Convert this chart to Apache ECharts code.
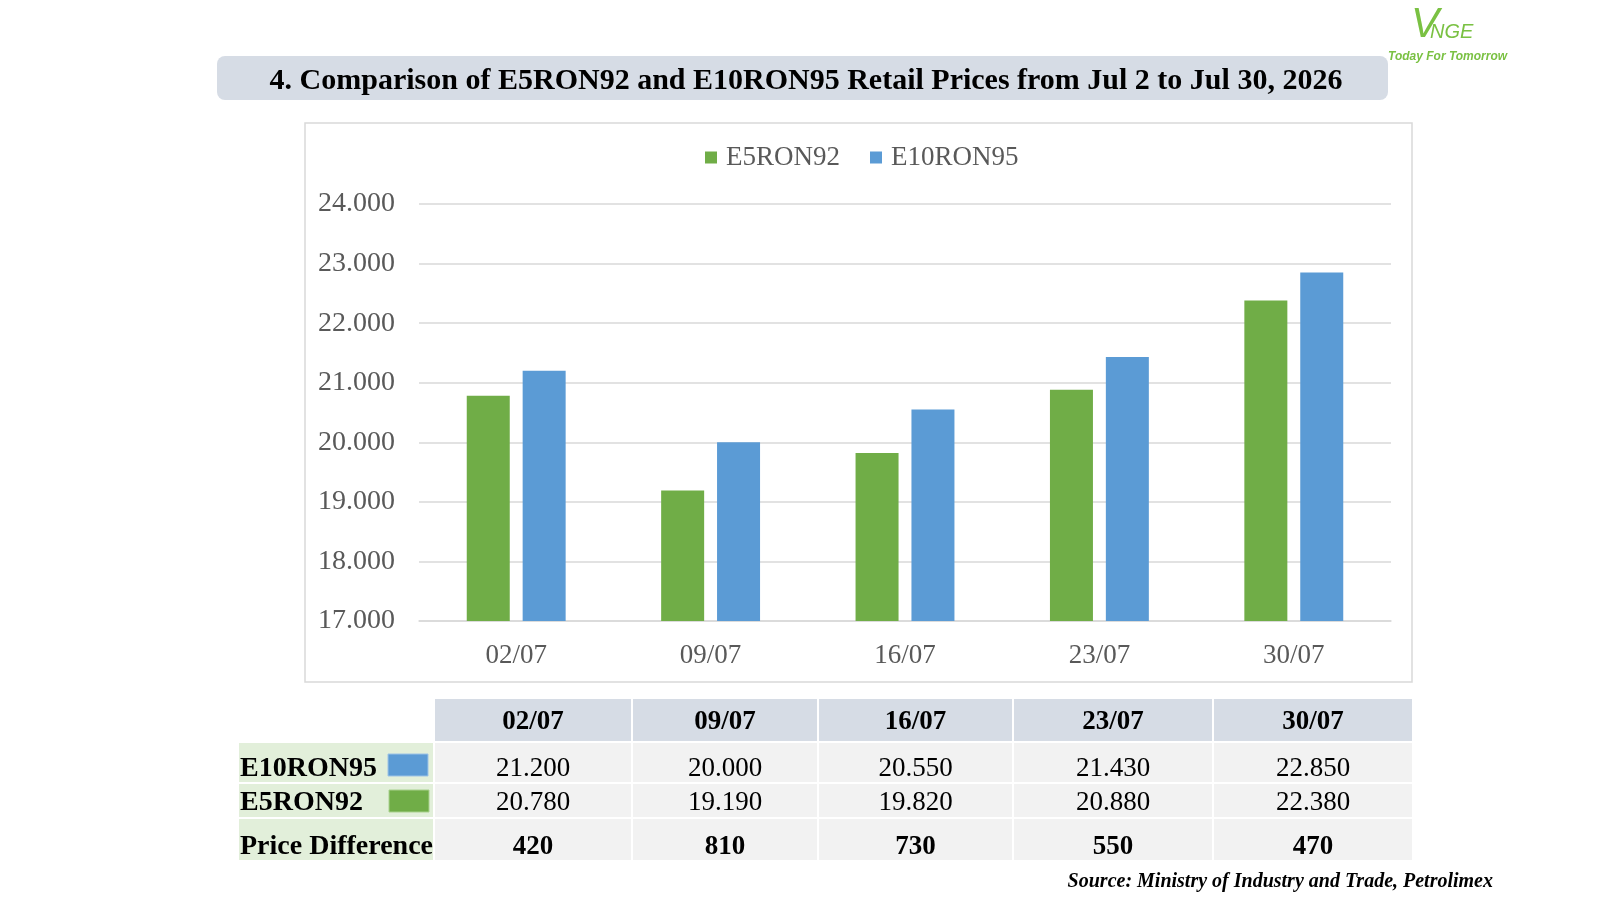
<!DOCTYPE html>
<html>
<head>
<meta charset="utf-8">
<title>E5RON92 vs E10RON95</title>
<script src="https://cdn.jsdelivr.net/npm/echarts@6/dist/echarts.min.js"></script>
<style>
  html, body { margin: 0; padding: 0; background: #fff; }
  #chart { width: 1600px; height: 900px; }
</style>
</head>
<body>
<div id="chart"></div>
<script>
// data
var categories = ['02/07', '09/07', '16/07', '23/07', '30/07'];
var e5ron92 = [20780, 19190, 19820, 20880, 22380];
var e10ron95 = [21200, 20000, 20550, 21430, 22850];
var priceDiff = [420, 810, 730, 550, 470];
var yMin = 17000, yMax = 24000, yStep = 1000;

var GREEN = '#70ad47';
var BLUE = '#5b9bd5';
var SERIF = '"Liberation Serif", "Times New Roman", serif';

function fmt(v) {
    // 21200 -> "21.200"
    return (v / 1000).toFixed(3);
}

var chart = echarts.init(document.getElementById('chart'));

/* table under the chart, built from the arrays */
var colX = [[435, 631], [633, 817], [819, 1012], [1014, 1212], [1214, 1412]];
var rowY = [[699, 741], [743, 782], [784, 817], [819, 860]];
var textY = [722, 769, 803, 847];
var labelX = [239, 433];

var table = [];
function cell(x0, x1, y0, y1, fill) {
    table.push({ type: 'rect', shape: { x: x0, y: y0, width: x1 - x0, height: y1 - y0 }, style: { fill: fill }, silent: true });
}
function txt(x, y, s, opts) {
    table.push({
        type: 'text', x: x, y: y, silent: true,
        style: Object.assign({
            text: s, fill: '#000', font: '27px ' + SERIF,
            textAlign: 'center', textVerticalAlign: 'middle'
        }, opts || {})
    });
}

for (var i = 0; i < categories.length; i++) {
    var c = colX[i], mid = (c[0] + c[1]) / 2;
    cell(c[0], c[1], rowY[0][0], rowY[0][1], '#d6dce5');
    cell(c[0], c[1], rowY[1][0], rowY[1][1], '#f2f2f2');
    cell(c[0], c[1], rowY[2][0], rowY[2][1], '#f2f2f2');
    cell(c[0], c[1], rowY[3][0], rowY[3][1], '#f2f2f2');
    txt(mid, textY[0], categories[i], { font: 'bold 27px ' + SERIF });
    txt(mid, textY[1], fmt(e10ron95[i]));
    txt(mid, textY[2], fmt(e5ron92[i]));
    txt(mid, textY[3], String(priceDiff[i]), { font: 'bold 27px ' + SERIF });
}
for (var r = 1; r < 4; r++) {
    cell(labelX[0], labelX[1], rowY[r][0], rowY[r][1], '#e2efda');
}
txt(240, textY[1], 'E10RON95', { font: 'bold 28px ' + SERIF, textAlign: 'left' });
txt(240, textY[2], 'E5RON92', { font: 'bold 28px ' + SERIF, textAlign: 'left' });
txt(240, textY[3], 'Price Difference', { font: 'bold 28px ' + SERIF, textAlign: 'left' });
table.push({ type: 'rect', shape: { x: 388, y: 754, width: 40, height: 22 }, style: { fill: BLUE, stroke: '#9dc3e6', lineWidth: 1 }, silent: true });
table.push({ type: 'rect', shape: { x: 389, y: 790, width: 40, height: 22 }, style: { fill: GREEN, stroke: '#a9d18e', lineWidth: 1 }, silent: true });

var decorations = [
    // chart frame
    { type: 'rect', shape: { x: 305, y: 123, width: 1107, height: 559 }, style: { fill: 'none', stroke: '#d9d9d9', lineWidth: 1.5 }, silent: true, z: -1 },
    // title bar
    { type: 'rect', shape: { x: 217, y: 56, width: 1171, height: 44, r: 8 }, style: { fill: '#d6dce5' }, silent: true },
    {
        type: 'text', x: 806, y: 81, silent: true,
        style: {
            text: '4. Comparison of E5RON92 and E10RON95 Retail Prices from Jul 2 to Jul 30, 2026',
            font: 'bold 30px ' + SERIF, fill: '#000', textAlign: 'center', textVerticalAlign: 'middle'
        }
    },
    // logo
    {
        type: 'text', x: 1411, y: 25, silent: true,
        style: { text: 'V', font: 'italic 42px "Liberation Sans", sans-serif', fill: '#7ac143', textAlign: 'left', textVerticalAlign: 'middle' }
    },
    {
        type: 'text', x: 1430, y: 32, silent: true,
        style: { text: 'NGE', font: 'italic 20px "Liberation Sans", sans-serif', fill: '#7ac143', textAlign: 'left', textVerticalAlign: 'middle' }
    },
    {
        type: 'text', x: 1388, y: 57, silent: true,
        style: { text: 'Today For Tomorrow', font: 'italic bold 12px "Liberation Sans", sans-serif', fill: '#7ac143', textAlign: 'left', textVerticalAlign: 'middle' }
    },
    // source
    {
        type: 'text', x: 1493, y: 882, silent: true,
        style: { text: 'Source: Ministry of Industry and Trade, Petrolimex', font: 'italic bold 20px ' + SERIF, fill: '#000', textAlign: 'right', textVerticalAlign: 'middle' }
    }
];

var option = {
    backgroundColor: '#fff',
    animation: false,
    textStyle: { fontFamily: SERIF },
    legend: {
        left: 705,
        top: 144,
        padding: 0,
        itemWidth: 12,
        itemHeight: 12,
        itemGap: 30,
        icon: 'rect',
        textStyle: { fontSize: 27, color: '#595959', fontFamily: SERIF, padding: [0, 0, 0, 4] },
        data: ['E5RON92', 'E10RON95']
    },
    grid: { left: 419, right: 209, top: 204, bottom: 279, containLabel: false },
    xAxis: {
        type: 'category',
        data: categories,
        axisLine: { lineStyle: { color: '#d9d9d9', width: 1.5 } },
        axisTick: { show: false },
        axisLabel: { fontSize: 27, color: '#595959', fontFamily: SERIF, margin: 21 }
    },
    yAxis: {
        type: 'value',
        min: yMin,
        max: yMax,
        interval: yStep,
        axisLine: { show: false },
        axisTick: { show: false },
        splitLine: { lineStyle: { color: '#d9d9d9', width: 1.5 } },
        axisLabel: { fontSize: 28, color: '#595959', fontFamily: SERIF, margin: 24, formatter: fmt }
    },
    series: [
        {
            name: 'E5RON92', type: 'bar', data: e5ron92,
            barWidth: 43, barGap: '30%',
            itemStyle: { color: GREEN }
        },
        {
            name: 'E10RON95', type: 'bar', data: e10ron95,
            barWidth: 43, barGap: '30%',
            itemStyle: { color: BLUE }
        }
    ],
    graphic: decorations.concat(table)
};

chart.setOption(option);
</script>
</body>
</html>
